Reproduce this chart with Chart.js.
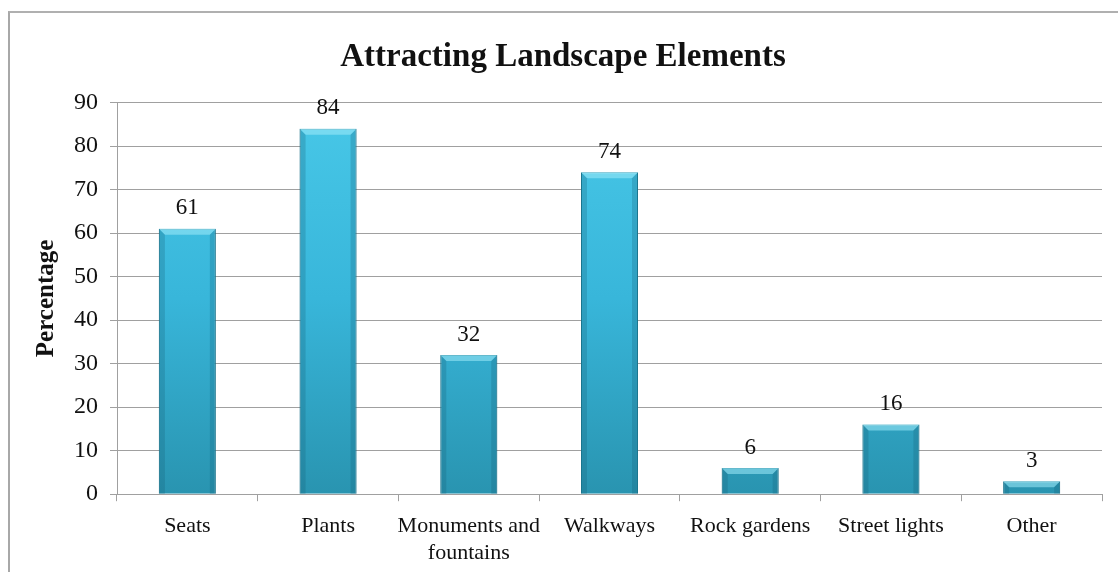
<!DOCTYPE html>
<html>
<head>
<meta charset="utf-8">
<script src="https://cdn.jsdelivr.net/npm/chart.js@4/dist/chart.umd.min.js"></script>
<style>
    body { margin: 0; background: #fff; }
    #wrap { position: relative; width: 1118px; height: 572px; }
    #frame { position: absolute; left: 8px; top: 11px; right: 0; bottom: 0;
             border-left: 2px solid #a8a8a8; border-top: 2px solid #b0b0b0; }
</style>
</head>
<body>
<div id="wrap">
    <div id="frame"></div>
    <canvas id="landscapeChart"></canvas>
</div>
<script>
const categories = ['Seats', 'Plants', ['Monuments and', 'fountains'], 'Walkways', 'Rock gardens', 'Street lights', 'Other'];
const percentages = [61, 84, 32, 74, 6, 16, 3];
const chartTitle = 'Attracting Landscape Elements';
const axisTitle = 'Percentage';

const serif = "'Liberation Serif', 'Times New Roman', serif";

// bevel edges on the bars, like the office chart style
const barBevel = {
    id: 'barBevel',
    afterDatasetsDraw(chart) {
        const ctx = chart.ctx;
        const meta = chart.getDatasetMeta(0);
        ctx.save();
        meta.data.forEach(function (bar) {
            const left = bar.x - bar.width / 2;
            const right = bar.x + bar.width / 2;
            const top = bar.y;
            const bottom = bar.base;
            const b = Math.min(6, (bottom - top) / 2);
            // top highlight
            ctx.fillStyle = 'rgba(160,235,250,0.55)';
            ctx.beginPath();
            ctx.moveTo(left, top);
            ctx.lineTo(right, top);
            ctx.lineTo(right - b, top + b);
            ctx.lineTo(left + b, top + b);
            ctx.closePath();
            ctx.fill();
            // darker sides
            ctx.fillStyle = 'rgba(20,90,115,0.25)';
            ctx.beginPath();
            ctx.moveTo(left, top);
            ctx.lineTo(left + b, top + b);
            ctx.lineTo(left + b, bottom);
            ctx.lineTo(left, bottom);
            ctx.closePath();
            ctx.fill();
            ctx.beginPath();
            ctx.moveTo(right, top);
            ctx.lineTo(right - b, top + b);
            ctx.lineTo(right - b, bottom);
            ctx.lineTo(right, bottom);
            ctx.closePath();
            ctx.fill();
        });
        ctx.restore();
    }
};

// draws the value over every bar
const valueLabels = {
    id: 'valueLabels',
    afterDatasetsDraw(chart) {
        const ctx = chart.ctx;
        const meta = chart.getDatasetMeta(0);
        ctx.save();
        ctx.font = '23px ' + serif;
        ctx.fillStyle = '#111';
        ctx.textAlign = 'center';
        ctx.textBaseline = 'bottom';
        meta.data.forEach(function (bar, i) {
            ctx.fillText(String(percentages[i]), bar.x, bar.y - 9);
        });
        ctx.restore();
    }
};

function BarGradient(context) {
    const area = context.chart.chartArea;
    if (!area) return '#36b3d6';
    const g = context.chart.ctx.createLinearGradient(0, area.top, 0, area.bottom);
    g.addColorStop(0, '#48c8e8');
    g.addColorStop(0.5, '#38b6da');
    g.addColorStop(1, '#2994b0');
    return g;
}

const context = document.getElementById('landscapeChart').getContext('2d');
new Chart(context, {
    type: 'bar',
    data: {
        labels: categories,
        datasets: [{
            data: percentages,
            backgroundColor: BarGradient,
            borderColor: '#1e7f98',
            borderWidth: 1,
            barPercentage: 0.405,
            categoryPercentage: 1.0
        }]
    },
    options: {
        responsive: true,
        maintainAspectRatio: false,
        animation: false,
        layout: { padding: { top: 38, right: 16, left: 24, bottom: -6 } },
        plugins: {
            legend: { display: false },
            tooltip: { enabled: false },
            title: {
                display: true,
                text: chartTitle,
                color: '#111',
                font: { family: serif, size: 33, weight: 'bold' },
                padding: { top: 0, bottom: 25 }
            }
        },
        scales: {
            x: {
                grid: { offset: true, drawOnChartArea: false, drawTicks: true, tickLength: 7, color: '#a0a0a0' },
                border: { color: '#a0a0a0' },
                ticks: { color: '#111', font: { family: serif, size: 22, lineHeight: 1.2 }, padding: 12, maxRotation: 0, autoSkip: false }
            },
            y: {
                min: 0,
                max: 90,
                ticks: { stepSize: 10, color: '#111', font: { family: serif, size: 24 }, padding: 12 },
                grid: { color: '#a0a0a0', tickLength: 7 },
                border: { color: '#a0a0a0' },
                title: {
                    display: true,
                    text: axisTitle,
                    color: '#111',
                    font: { family: serif, size: 25, weight: 'bold' },
                    padding: { top: 8, bottom: 0 }
                }
            }
        }
    },
    plugins: [barBevel, valueLabels]
});
</script>
</body>
</html>
